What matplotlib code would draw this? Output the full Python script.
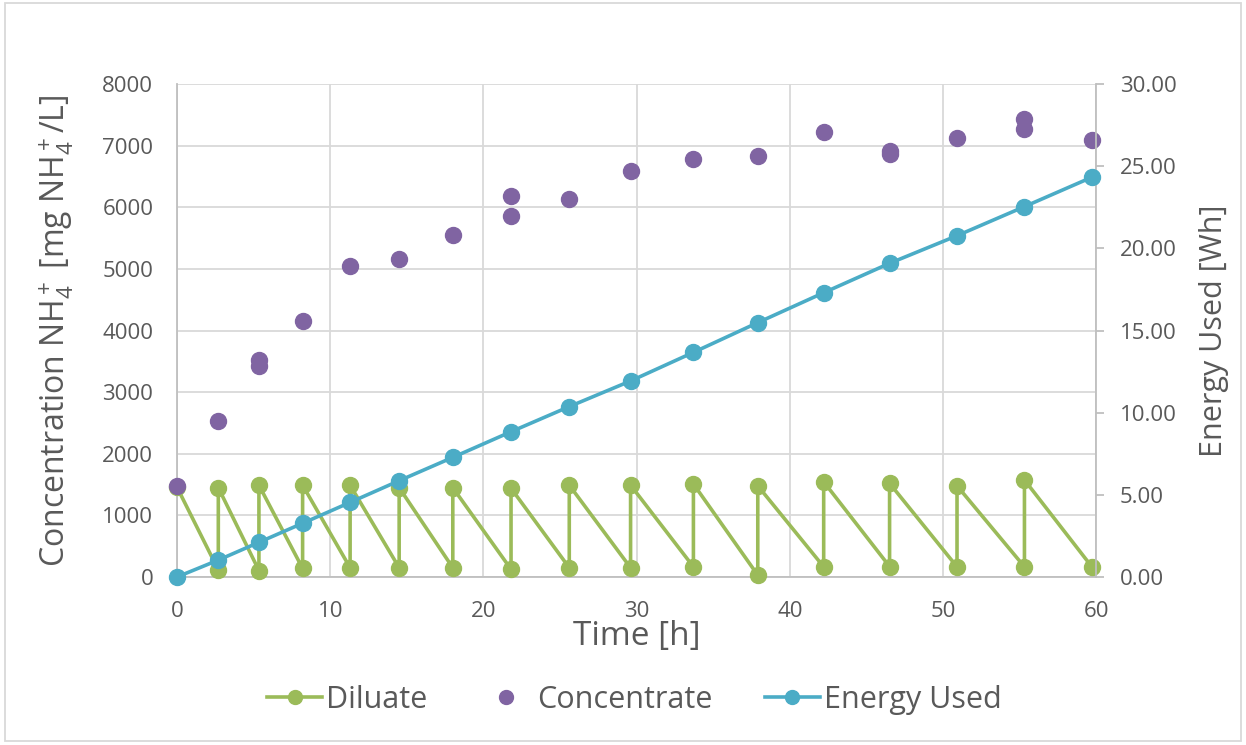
import matplotlib
matplotlib.use("Agg")
import matplotlib.pyplot as plt
from matplotlib.lines import Line2D
from matplotlib.patches import Rectangle
from matplotlib.ticker import FormatStrFormatter

plt.rcParams['font.family'] = ['Open Sans', 'DejaVu Sans']
plt.rcParams['mathtext.fontset'] = 'custom'
plt.rcParams['mathtext.rm'] = 'Open Sans'
plt.rcParams['mathtext.it'] = 'Open Sans:italic'
plt.rcParams['mathtext.bf'] = 'Open Sans:bold'

# Diluate: each batch drops over the run, then the tank is refilled (same time stamp)
diluate_time = [0, 2.7, 2.7, 5.35, 5.35, 8.2, 8.2, 11.3, 11.3, 14.5, 14.5,
                18.0, 18.0, 21.8, 21.8, 25.6, 25.6, 29.6, 29.6, 33.7, 33.7,
                37.9, 37.9, 42.2, 42.2, 46.5, 46.5, 50.9, 50.9, 55.3, 55.3, 59.7]
diluate_conc = [1460, 115, 1450, 105, 1490, 140, 1490, 150, 1490, 150, 1450,
                150, 1450, 125, 1440, 150, 1490, 150, 1490, 165, 1510,
                30, 1480, 165, 1545, 170, 1520, 165, 1480, 165, 1575, 165]

# Concentrate samples
conc_time = [0, 2.7, 5.35, 5.35, 8.2, 11.3, 14.5, 18.0, 21.8, 21.8, 25.6,
             29.6, 33.7, 37.9, 42.2, 46.5, 46.5, 50.9, 55.3, 55.3, 59.7]
conc_val = [1480, 2530, 3520, 3425, 4160, 5050, 5155, 5550, 6180, 5860, 6130,
            6590, 6780, 6825, 7225, 6920, 6865, 7120, 7435, 7270, 7095]

# Cumulative energy
energy_time = [0, 2.7, 5.35, 8.2, 11.3, 14.5, 18.0, 21.8, 25.6, 29.6, 33.7,
               37.9, 42.2, 46.5, 50.9, 55.3, 59.7]
energy_wh = [0, 1.03, 2.11, 3.27, 4.54, 5.86, 7.28, 8.84, 10.37, 11.93, 13.67,
             15.48, 17.30, 19.09, 20.77, 22.54, 24.33]

GREEN = '#9BBB59'
PURPLE = '#8064A2'
TEAL = '#4BACC6'
TXT = '#595959'
GRID = '#D9D9D9'
AXIS = '#BFBFBF'

fig = plt.figure(figsize=(12.46, 7.45), dpi=100)
ax = fig.add_axes([0.142, 0.2255, 0.738, 0.6617])
ax2 = ax.twinx()

ax.plot(diluate_time, diluate_conc, color=GREEN, lw=2.6, marker='o',
        ms=11.5, mec=GREEN, mfc=GREEN, zorder=3, clip_on=False)
ax.plot(conc_time, conc_val, ls='none', marker='o', ms=11.5,
        mfc=PURPLE, mec=PURPLE, zorder=4, clip_on=False)
ax2.plot(energy_time, energy_wh, color=TEAL, lw=2.6, marker='o', ms=11.5,
         mfc=TEAL, mec=TEAL, zorder=5, clip_on=False)

ax.set_xlim(0, 60)
ax.set_ylim(0, 8000)
ax2.set_ylim(0, 30)
ax.set_xticks(range(0, 61, 10))
ax.set_yticks(range(0, 8001, 1000))
ax2.set_yticks(range(0, 31, 5))
ax2.yaxis.set_major_formatter(FormatStrFormatter('%.2f'))

ax.grid(True, color=GRID, lw=1.3)
ax.set_axisbelow(True)

for a in (ax, ax2):
    for s in a.spines.values():
        s.set_visible(False)
ax.spines['left'].set_visible(True)
ax.spines['left'].set_color(AXIS)
ax.spines['left'].set_linewidth(1.3)
ax.spines['bottom'].set_visible(True)
ax.spines['bottom'].set_color(AXIS)
ax.spines['bottom'].set_linewidth(1.3)
ax2.spines['right'].set_visible(True)
ax2.spines['right'].set_color(AXIS)
ax2.spines['right'].set_linewidth(1.3)

ax.tick_params(axis='y', length=0, pad=17, labelsize=16, labelcolor=TXT)
ax.tick_params(axis='x', length=0, pad=17, labelsize=16, labelcolor=TXT)
ax2.tick_params(axis='y', length=6, width=1.3, color=AXIS, pad=11,
                labelsize=16, labelcolor=TXT)

ax.set_xlabel('Time [h]', fontsize=24, color=TXT, labelpad=-1)
ax.set_ylabel('Concentration NH$_4^+$ [mg NH$_4^+$/L]', fontsize=23,
              color=TXT, labelpad=19)
ax2.set_ylabel('Energy Used [Wh]', fontsize=22, color=TXT, labelpad=16)

handles = [
    Line2D([], [], color=GREEN, lw=2.6, marker='o', ms=10, mfc=GREEN, mec=GREEN),
    Line2D([], [], ls='none', marker='o', ms=10, mfc=PURPLE, mec=PURPLE),
    Line2D([], [], color=TEAL, lw=2.6, marker='o', ms=10, mfc=TEAL, mec=TEAL),
]
leg = fig.legend(handles, ['Diluate', 'Concentrate', 'Energy Used'],
                 loc='center', bbox_to_anchor=(0.509, 0.061), ncol=3,
                 frameon=False, fontsize=22, handlelength=1.8,
                 handletextpad=0.12, columnspacing=1.7)
for t in leg.get_texts():
    t.set_color(TXT)

fig.patches.append(Rectangle((0.004, 0.006), 0.992, 0.99, transform=fig.transFigure,
                             fill=False, ec=GRID, lw=1.3))

fig.savefig('out.png', dpi=100)
